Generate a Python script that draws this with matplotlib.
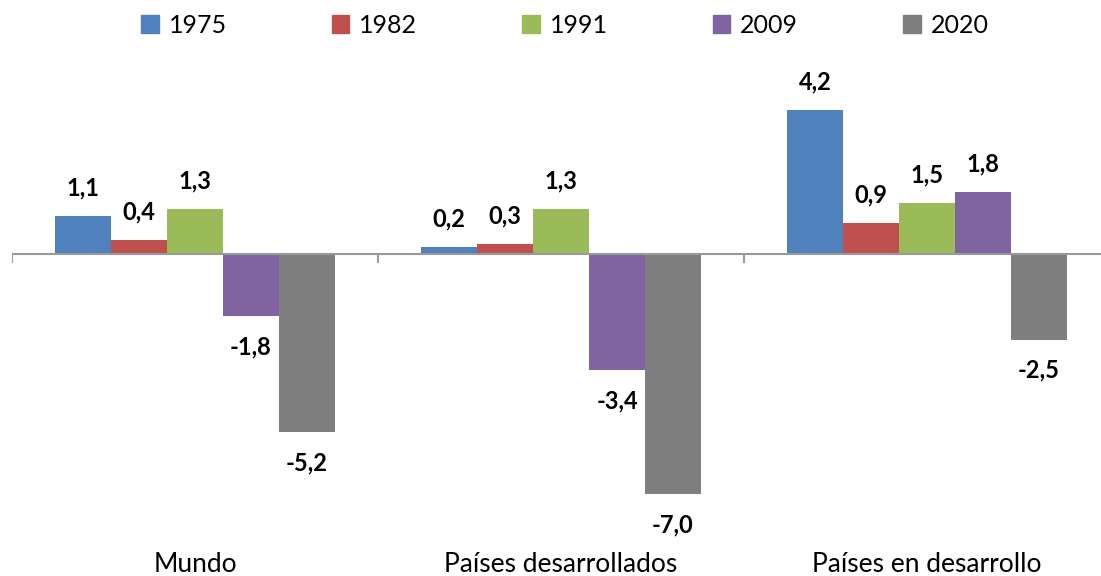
import numpy as np
import matplotlib.pyplot as plt
from matplotlib.patches import Patch

plt.rcParams['font.family'] = ['Lato', 'DejaVu Sans']

categories = ['Mundo', 'Países desarrollados', 'Países en desarrollo']
years = ['1975', '1982', '1991', '2009', '2020']
values = {
    '1975': [1.1, 0.2, 4.2],
    '1982': [0.4, 0.3, 0.9],
    '1991': [1.3, 1.3, 1.5],
    '2009': [-1.8, -3.4, 1.8],
    '2020': [-5.2, -7.0, -2.5],
}
colors = ['#4F81BD', '#C0504D', '#9BBB59', '#8064A2', '#7F7F7F']

fig = plt.figure(figsize=(11.01, 5.76), dpi=100)
# axes spans the category area; right edge goes past the picture like the original
ax = fig.add_axes([12 / 1101, 1 - 542 / 576, 1098 / 1101, (542 - 57) / 576])

x = np.arange(len(categories))
width = 0.153
for i, (yr, c) in enumerate(zip(years, colors)):
    pos = x + (i - 2) * width
    vals = values[yr]
    ax.bar(pos, vals, width, color=c, zorder=2)
    for px, v in zip(pos, vals):
        off = 0.82 if v >= 0 else -0.9
        ax.text(px, v + off, f'{v:.1f}'.replace('.', ','), ha='center', va='center',
                fontsize=17, fontweight='bold', color='black')

ax.set_xlim(-0.5, 2.5)
ax.set_ylim(-8.41, 5.75)
ax.axhline(0, color='#999999', lw=1.5, zorder=3)
ax.vlines([-0.5, 0.5, 1.5], -0.27, 0, color='#999999', lw=1.5, zorder=3)
for s in ax.spines.values():
    s.set_visible(False)
ax.set_yticks([])
ax.set_xticks(x)
ax.set_xticklabels(categories, fontsize=19)
ax.tick_params(axis='x', length=0, pad=7)

handles = [Patch(color=c, label=yr) for yr, c in zip(years, colors)]
fig.legend(handles=handles, loc='upper center', bbox_to_anchor=(0.513, 1.015), ncol=5,
           frameon=False, fontsize=18, handlelength=0.7, handleheight=0.7,
           handletextpad=0.4, columnspacing=4.2)

fig.savefig('out.png', dpi=100)
